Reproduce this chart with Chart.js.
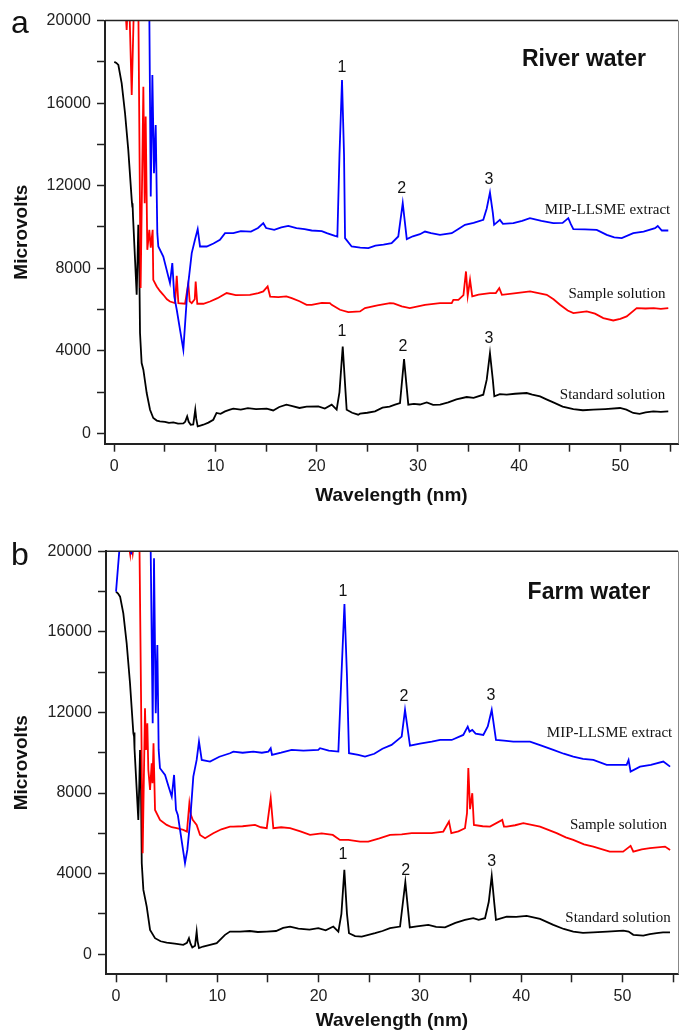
<!DOCTYPE html>
<html>
<head>
<meta charset="utf-8">
<script src="https://cdn.jsdelivr.net/npm/chart.js@4.4.1/dist/chart.umd.min.js"></script>
<style>
  html, body { margin: 0; padding: 0; background: #fff; }
  .panel { position: absolute; left: 0; width: 681px; }
  #panelA { top: 0; height: 505px; }
  #panelB { top: 505px; height: 528px; }
</style>
</head>
<body>
<div class="panel" id="panelA"><canvas id="chartA"></canvas></div>
<div class="panel" id="panelB"><canvas id="chartB"></canvas></div>
<script>
// tick values
const xTicks = [0, 5, 10, 15, 20, 25, 30, 35, 40, 45, 50, 55];
const xLabels = [0, 10, 20, 30, 40, 50];
const yTicks = [0, 2000, 4000, 6000, 8000, 10000, 12000, 14000, 16000, 18000, 20000];
const yLabels = [0, 4000, 8000, 12000, 16000, 20000];

// (a) River water - [wavelength, microvolts]
const riverExtract = [[3.45,21000],[3.6,11475],[3.76,17365],[3.92,12607],[4.09,14945],[4.25,9700],[4.35,9055],[4.84,8570],[5.5,7280],[5.73,8250],[5.93,6630],[6.17,5990],[6.5,5000],[6.82,4052],[7.2,6797],[7.65,8734],[7.97,9378],[8.24,9896],[8.47,9055],[9.13,9055],[9.8,9200],[10.44,9378],[10.94,9700],[11.76,9700],[12.5,9800],[13.5,9780],[14.2,9950],[14.72,10185],[15.0,9950],[15.8,9860],[16.5,9980],[17.19,10055],[18,9950],[18.8,9900],[19.5,9830],[20.5,9800],[21.0,9700],[21.8,9572],[22.04,9540],[22.25,13500],[22.5,17124],[22.7,13500],[22.8,9460],[23.45,9055],[24.3,9000],[25.1,8975],[25.8,9100],[26.6,9150],[27.4,9218],[28.06,9540],[28.5,11155],[28.9,9410],[29.5,9550],[30.2,9650],[30.7,9780],[31.3,9700],[32.18,9620],[33.34,9700],[34.0,9900],[34.65,10105],[35.5,10200],[36.46,10345],[36.8,10900],[37.12,11668],[37.4,10700],[37.53,10105],[38.1,10345],[38.4,10150],[39.43,10185],[40.3,10300],[41.07,10427],[42.2,10300],[43.38,10185],[44.3,10200],[44.86,10427],[45.1,10150],[45.36,9896],[46.5,9880],[47.67,9860],[48.66,9620],[49.4,9500],[50.14,9460],[51.28,9700],[52.3,9780],[53.43,9944],[53.7,10050],[54.1,9830],[54.74,9830]];
const riverSample = [[1.05,21000],[1.22,19545],[1.35,21000],[1.5,20500],[1.72,16400],[1.95,21000],[2.37,21000],[2.6,7040],[2.87,16800],[3.0,11150],[3.1,15350],[3.26,8895],[3.46,9860],[3.6,9000],[3.79,9860],[3.85,7440],[4.19,7120],[4.5,6900],[4.84,6715],[5.2,6500],[5.5,6390],[6.0,6310],[6.17,7635],[6.33,6310],[6.99,6280],[7.31,7280],[7.45,6400],[7.65,6310],[7.95,6500],[8.04,7360],[8.2,6280],[8.8,6280],[9.46,6390],[10.2,6550],[11.1,6800],[12,6700],[13.4,6715],[14.23,6797],[14.72,6877],[15.15,7117],[15.4,6630],[16.2,6600],[17.0,6635],[17.53,6555],[18.3,6400],[19.0,6230],[19.5,6230],[20.5,6320],[21.3,6310],[21.48,6230],[22.3,5990],[23.12,5877],[24.28,5910],[24.77,6070],[26,6200],[27.24,6310],[27.6,6300],[28.4,6150],[29.2,6070],[30.7,6230],[32.18,6310],[33.34,6310],[33.5,6470],[34.0,6470],[34.5,6700],[34.75,7845],[34.92,6667],[35.15,7440],[35.37,6635],[36,6720],[37.12,6797],[37.7,6800],[38.04,7040],[38.3,6715],[39.5,6780],[41.08,6877],[42.73,6715],[43.4,6500],[44.04,6230],[44.8,5950],[45.36,5830],[46.68,5910],[47.5,5800],[48.32,5587],[49.3,5470],[50.0,5550],[50.63,5670],[51.62,6070],[52.5,6050],[53.3,6070],[54.0,6030],[54.74,6070]];
const riverStandard = [[0,18000],[0.2,17950],[0.4,17850],[0.73,16960],[1.06,15510],[1.38,13735],[1.72,11315],[1.78,10990],[1.8,11150],[1.85,10500],[2.21,6715],[2.3,8500],[2.37,10105],[2.45,9000],[2.54,4860],[2.7,3408],[2.87,3084],[3.2,1956],[3.53,1147],[3.85,745],[4.2,620],[4.5,580],[5.0,560],[5.4,510],[5.83,530],[6.3,470],[6.82,480],[7.0,560],[7.2,820],[7.35,560],[7.55,420],[7.8,430],[8.0,1147],[8.1,700],[8.24,340],[8.5,380],[8.8,420],[9.3,520],[9.78,660],[10.1,990],[10.5,950],[10.94,1065],[11.43,1147],[11.76,1195],[12.5,1150],[13.2,1220],[14,1180],[15.06,1195],[15.7,1110],[16.3,1280],[17,1390],[17.5,1330],[18.3,1230],[19,1300],[20.16,1307],[20.8,1200],[21.48,1390],[21.97,1147],[22.25,2000],[22.57,4212],[22.85,2000],[22.96,1147],[23.5,1000],[24.1,905],[24.28,953],[25,1000],[25.76,1065],[26.5,1250],[27.2,1300],[27.74,1390],[28.23,1470],[28.63,3600],[29.05,1390],[29.6,1430],[30.2,1400],[30.87,1502],[31.5,1380],[32.2,1390],[33,1500],[33.8,1650],[34.82,1762],[35.5,1720],[36.46,1875],[36.8,2600],[37.12,3890],[37.4,2600],[37.55,1795],[38.1,1900],[38.77,1875],[39.6,1920],[40.75,1955],[41.3,1880],[42.07,1795],[42.7,1650],[43.38,1502],[44.3,1300],[45.36,1180],[46.3,1120],[47.33,1150],[48.5,1180],[49.97,1230],[50.6,1150],[51.28,990],[51.9,950],[52.5,1020],[53.26,1065],[54,1040],[54.74,1065]];

// (b) Farm water
const farmExtract = [[0,18000],[0.4,20500],[1.4,20500],[1.5,19850],[1.6,20500],[3.4,21000],[3.62,11464],[3.75,19652],[3.92,11960],[4.08,15350],[4.21,10140],[4.34,9231],[4.84,8898],[5.2,8300],[5.5,7821],[5.73,8898],[5.92,7161],[6.1,6913],[6.32,6170],[6.81,4516],[7.04,5176],[7.3,6501],[7.63,8814],[7.96,9643],[8.19,10551],[8.46,9643],[9.28,9559],[10.2,9800],[11.25,9975],[11.58,10055],[12.5,10000],[13.55,10055],[14.4,10000],[15.04,10055],[15.27,10224],[15.4,9890],[16.3,10000],[17.34,10140],[18.5,10100],[19.97,10140],[20.14,10224],[21.0,10100],[21.95,10055],[22.25,13800],[22.55,17385],[22.8,13800],[23.0,9975],[23.92,9890],[24.58,9806],[25.5,9950],[26.3,10200],[27.2,10388],[28.2,10800],[28.53,12124],[29.02,10350],[30.0,10450],[31.17,10551],[32.0,10635],[33.14,10634],[34.28,10883],[34.72,11295],[34.9,11050],[35.17,11130],[35.5,10950],[36.26,10883],[36.7,11300],[37.09,12124],[37.35,11200],[37.51,10635],[38.3,10600],[39.22,10551],[40.87,10551],[42.0,10350],[43.17,10140],[44.2,9950],[45.14,9806],[46.1,9700],[47.12,9640],[48.44,9395],[50.41,9395],[50.6,9640],[50.8,9062],[51.73,9310],[52.8,9400],[54.03,9560],[54.7,9310]];
const farmSample = [[1.2,20500],[1.4,19850],[1.5,20500],[1.65,19900],[1.8,20500],[2.3,21000],[2.63,5012],[2.86,12208],[2.96,10140],[3.09,11464],[3.19,9151],[3.36,8154],[3.52,9480],[3.6,8486],[3.7,10472],[3.85,7161],[4.34,6665],[5.0,6417],[5.5,6300],[5.99,6253],[6.64,6169],[7.0,6087],[7.24,7494],[7.4,6900],[7.57,6665],[7.96,6417],[8.29,5921],[8.79,5757],[9.6,6005],[10.4,6200],[11.25,6333],[11.58,6333],[12.5,6350],[13.72,6417],[14.3,6300],[14.88,6253],[15.27,7742],[15.53,6253],[16.3,6300],[17.18,6253],[18.2,6100],[19.15,5921],[20.3,6000],[21.4,5921],[22.1,5673],[22.93,5673],[24.09,5590],[24.9,5590],[26,5750],[27.05,5921],[28.2,5950],[29.19,6005],[30.34,6005],[31.17,6005],[32.31,6087],[32.87,6581],[33.1,6005],[33.8,6100],[34.45,6253],[34.65,7000],[34.78,9246],[34.95,7200],[35.17,7990],[35.33,6417],[36.2,6350],[36.92,6333],[38.13,6665],[38.3,6333],[38.57,6333],[39.4,6400],[40.21,6501],[41.86,6333],[43.5,6005],[44.4,5800],[45.14,5673],[46.2,5450],[47.12,5340],[48.74,5092],[50.06,5092],[50.8,5380],[51.07,5092],[51.9,5200],[52.71,5261],[54.2,5340],[54.7,5175]];
const farmStandard = [[0,18000],[0.2,17900],[0.4,17747],[0.72,16923],[1.05,15434],[1.38,13449],[1.71,10968],[1.78,10800],[1.8,11000],[1.85,10200],[2.2,6665],[2.3,8500],[2.37,10140],[2.45,9000],[2.54,4516],[2.7,3191],[3.03,2362],[3.36,1206],[3.85,794],[4.4,640],[5.0,576],[5.8,520],[6.64,462],[7.0,560],[7.2,794],[7.35,520],[7.53,330],[7.8,420],[7.96,1122],[8.05,650],[8.19,300],[8.6,380],[9.28,462],[9.94,546],[10.76,958],[11.25,1122],[12.24,1122],[13.2,1150],[14,1100],[14.88,1122],[15.8,1150],[16.5,1300],[17.18,1370],[18,1270],[19.1,1220],[19.97,1290],[20.7,1180],[21.45,1370],[21.95,1122],[22.25,2000],[22.54,4184],[22.8,2000],[23.0,1040],[23.6,900],[24.26,873],[25.57,1040],[26.3,1150],[27.05,1290],[28.04,1370],[28.56,3573],[29.0,1330],[29.7,1380],[30.83,1454],[31.6,1350],[32.48,1330],[33.5,1550],[34.45,1702],[35.27,1786],[35.8,1700],[36.43,1786],[36.8,2600],[37.09,3886],[37.35,2500],[37.51,1704],[38.57,1860],[39.5,1850],[40.54,1900],[41.86,1750],[43.17,1454],[44.2,1250],[45.14,1122],[46.1,1060],[47.1,1080],[48.5,1120],[50.08,1170],[50.6,1120],[51.07,958],[52.05,920],[52.7,1000],[53.37,1040],[54.0,1080],[54.69,1080]];

const SANS = '"Liberation Sans", Arial, sans-serif';
const SERIF = '"Liberation Serif", "Times New Roman", serif';
const AXIS = '#222';

function notesPlugin(panel) {
  return {
    id: 'notes',
    afterDraw(chart) {
      const { ctx, chartArea: a, scales: { x, y } } = chart;
      ctx.save();
      // frame top + right
      ctx.strokeStyle = AXIS;
      ctx.lineWidth = 1.5;
      ctx.beginPath();
      ctx.moveTo(a.left, a.top);
      ctx.lineTo(a.right, a.top);
      ctx.stroke();
      ctx.strokeStyle = '#888';
      ctx.lineWidth = 1;
      ctx.beginPath();
      ctx.moveTo(a.right + 0.5, a.top);
      ctx.lineTo(a.right + 0.5, a.bottom);
      ctx.stroke();

      ctx.fillStyle = '#111';
      ctx.textAlign = 'center';
      ctx.textBaseline = 'middle';
      panel.notes.forEach(n => {
        ctx.font = n.font;
        ctx.fillText(n.text, x.getPixelForValue(n.x), y.getPixelForValue(n.y));
      });

      // panel letter
      ctx.font = '32px ' + SANS;
      ctx.textBaseline = 'alphabetic';
      ctx.fillText(panel.letter, 20, panel.letterY);
      ctx.restore();
    }
  };
}

function makeChart(id, panel) {
  return new Chart(document.getElementById(id), {
    type: 'line',
    data: {
      datasets: [
        { label: 'MIP-LLSME extract', data: panel.extract, borderColor: '#0000ff' },
        { label: 'Sample solution', data: panel.sample, borderColor: '#ff0000' },
        { label: 'Standard solution', data: panel.standard, borderColor: '#000000' },
      ],
    },
    options: {
      responsive: true,
      maintainAspectRatio: false,
      animation: false,
      devicePixelRatio: 1,
      datasets: { line: { borderWidth: 1.8, pointRadius: 0, tension: 0, fill: false } },
      layout: { padding: { top: panel.padTop, right: 3, left: 0, bottom: 0 } },
      plugins: { legend: { display: false }, tooltip: { enabled: false } },
      scales: {
        x: {
          type: 'linear',
          min: panel.xMin,
          max: panel.xMax,
          afterBuildTicks: s => { s.ticks = xTicks.map(v => ({ value: v })); },
          afterFit: s => { s.height = panel.xAxisH; },
          ticks: {
            autoSkip: false, maxRotation: 0, padding: 5,
            color: AXIS, font: { family: SANS, size: 16 },
            callback: v => (xLabels.includes(v) ? String(v) : ''),
          },
          grid: { drawOnChartArea: false, drawTicks: true, tickLength: 8, tickColor: AXIS, tickWidth: 1.5 },
          border: { display: true, color: AXIS, width: 2 },
          title: {
            display: true, text: 'Wavelength (nm)', color: '#111',
            font: { family: SANS, size: 19, weight: 'bold' },
            padding: { top: 0, bottom: panel.xTitlePad },
          },
        },
        y: {
          type: 'linear',
          min: panel.yMin,
          max: 20000,
          afterBuildTicks: s => { s.ticks = yTicks.map(v => ({ value: v })); },
          afterFit: s => { s.width = panel.yAxisW; },
          ticks: {
            autoSkip: false, padding: 6,
            color: AXIS, font: { family: SANS, size: 16 },
            callback: v => (yLabels.includes(v) ? String(v) : ''),
          },
          grid: { drawOnChartArea: false, drawTicks: true, tickLength: 8, tickColor: AXIS, tickWidth: 1.5 },
          border: { display: true, color: AXIS, width: 2 },
          title: {
            display: true, text: 'Microvolts', color: '#111',
            font: { family: SANS, size: 19, weight: 'bold' },
            padding: { top: 10, bottom: 0 },
          },
        },
      },
    },
    plugins: [notesPlugin(panel)],
  });
}

makeChart('chartA', {
  extract: riverExtract, sample: riverSample, standard: riverStandard,
  xMin: -0.92, xMax: 55.7, yMin: -500,
  padTop: 20.6, xAxisH: 61.3, yAxisW: 105, xTitlePad: -2,
  letter: 'a', letterY: 33,
  notes: [
    { text: 'River water', x: 46.41, y: 18093, font: 'bold 23px ' + SANS },
    { text: '1', x: 22.5, y: 17700, font: '16px ' + SANS },
    { text: '2', x: 28.4, y: 11847, font: '16px ' + SANS },
    { text: '3', x: 37.03, y: 12273, font: '16px ' + SANS },
    { text: '1', x: 22.5, y: 4924, font: '16px ' + SANS },
    { text: '2', x: 28.53, y: 4197, font: '16px ' + SANS },
    { text: '3', x: 37.03, y: 4585, font: '16px ' + SANS },
    { text: 'MIP-LLSME extract', x: 48.74, y: 10830, font: '15px ' + SERIF },
    { text: 'Sample solution', x: 49.67, y: 6764, font: '15px ' + SERIF },
    { text: 'Standard solution', x: 49.23, y: 1874, font: '15px ' + SERIF },
  ],
});

makeChart('chartB', {
  extract: farmExtract, sample: farmSample, standard: farmStandard,
  xMin: -0.99, xMax: 55.48, yMin: -1000,
  padTop: 46.3, xAxisH: 58.7, yAxisW: 106, xTitlePad: 1,
  letter: 'b', letterY: 60,
  notes: [
    { text: 'Farm water', x: 46.69, y: 17930, font: 'bold 23px ' + SANS },
    { text: '1', x: 22.41, y: 17980, font: '16px ' + SANS },
    { text: '2', x: 28.43, y: 12769, font: '16px ' + SANS },
    { text: '3', x: 37.02, y: 12819, font: '16px ' + SANS },
    { text: '1', x: 22.41, y: 4928, font: '16px ' + SANS },
    { text: '2', x: 28.6, y: 4134, font: '16px ' + SANS },
    { text: '3', x: 37.09, y: 4596, font: '16px ' + SANS },
    { text: 'MIP-LLSME extract', x: 48.72, y: 10983, font: '15px ' + SERIF },
    { text: 'Sample solution', x: 49.6, y: 6417, font: '15px ' + SERIF },
    { text: 'Standard solution', x: 49.56, y: 1801, font: '15px ' + SERIF },
  ],
});
</script>
</body>
</html>
